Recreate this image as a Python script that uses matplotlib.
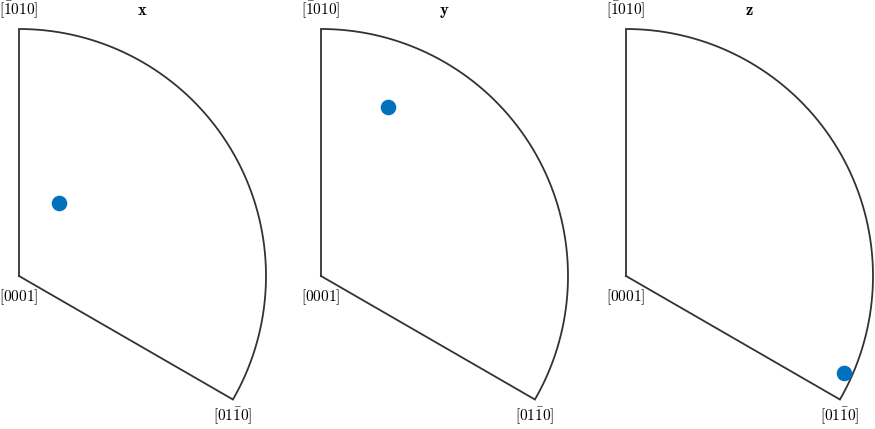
import numpy as np
import matplotlib.pyplot as plt

plt.rcParams['mathtext.fontset'] = 'cm'
plt.rcParams['font.family'] = 'serif'
plt.rcParams['font.serif'] = ['DejaVu Serif']

# data
titles = ['x', 'y', 'z']
dot_azimuth = [61.3, 68.4, -24.0]      # degrees, measured from [2-1-10] direction
dot_radius = [0.337, 0.736, 0.966]     # fraction of the sector radius
corner_labels = [r'$[\bar{1}010]$', r'$[0001]$', r'$[01\bar{1}0]$']
sector_start, sector_end = -30.0, 90.0

# layout (pixels)
W, H, R = 875, 429, 247.0
centers_x = [19, 321, 626]
center_y = H - 276
xlim = (-0.1, 1.1)
ylim = (-0.62, 1.1)

fig = plt.figure(figsize=(W / 100, H / 100), dpi=100)

line_col = '#333333'
dot_col = '#0072BD'
fs = 11

for i in range(3):
    cx = centers_x[i]
    left = (cx + xlim[0] * R) / W
    bottom = (center_y + ylim[0] * R) / H
    ax = fig.add_axes([left, bottom, (xlim[1] - xlim[0]) * R / W,
                       (ylim[1] - ylim[0]) * R / H])
    ax.set_xlim(xlim)
    ax.set_ylim(ylim)
    ax.axis('off')

    # sector outline
    t = np.radians(np.linspace(sector_start, sector_end, 300))
    bx = np.concatenate([[0], np.cos(t), [0]])
    by = np.concatenate([[0], np.sin(t), [0]])
    ax.plot(bx, by, color=line_col, lw=1.3, solid_joinstyle='miter',
            clip_on=False)

    # orientation marker
    a = np.radians(dot_azimuth[i])
    ax.plot(dot_radius[i] * np.cos(a), dot_radius[i] * np.sin(a), 'o',
            color=dot_col, markersize=10.2, clip_on=False, zorder=3)

    # corner labels
    e = np.radians(sector_start)
    ax.text(0, 1.057, corner_labels[0], ha='center', va='baseline',
            fontsize=fs, clip_on=False)
    ax.text(0, -0.101, corner_labels[1], ha='center', va='baseline',
            fontsize=fs, clip_on=False)
    ax.text(np.cos(e), -0.587, corner_labels[2], ha='center',
            va='baseline', fontsize=fs, clip_on=False)

    # title
    ax.text(0.5, 1.057, r'$\mathbf{' + titles[i] + '}$', ha='center',
            va='baseline', fontsize=12, clip_on=False)

fig.savefig('out.png', dpi=100)
